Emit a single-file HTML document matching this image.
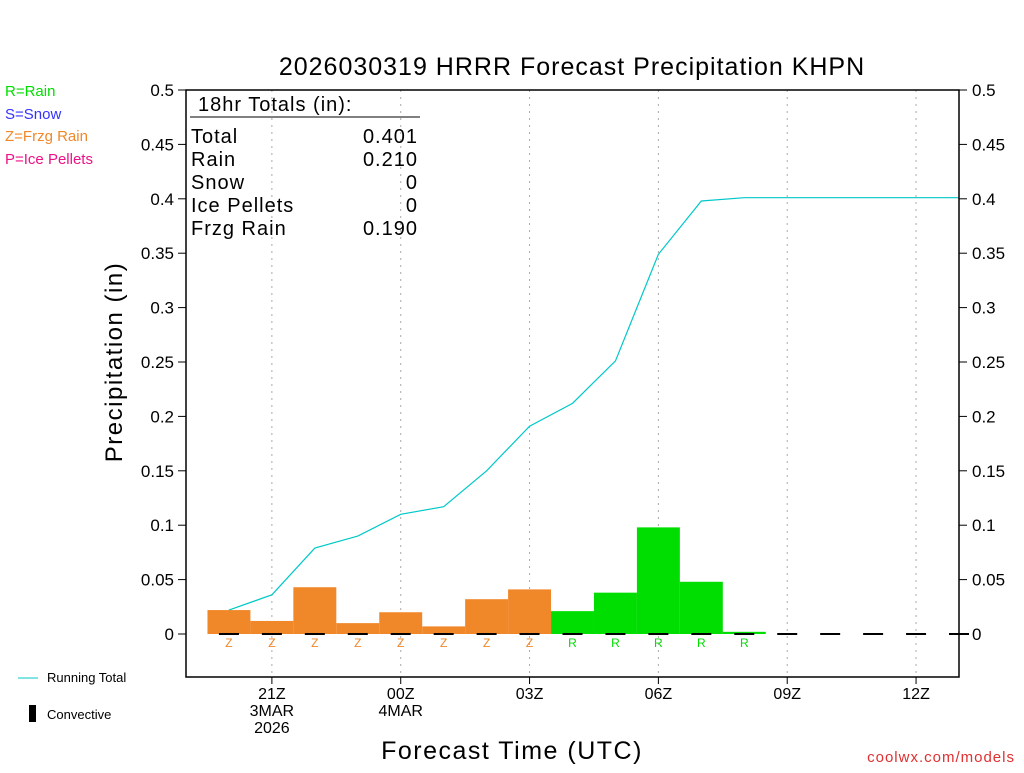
<!DOCTYPE html>
<html><head><meta charset="utf-8"><style>
body{margin:0;background:#fff;width:1024px;height:768px;overflow:hidden;font-family:"Liberation Sans",sans-serif}
</style></head><body>
<svg id="chart" width="1024" height="768" xmlns="http://www.w3.org/2000/svg" font-family="Liberation Sans, sans-serif">
<text x="572" y="75" font-size="25" text-anchor="middle" letter-spacing="1">2026030319 HRRR Forecast Precipitation KHPN</text>
<g font-size="15">
<text x="5" y="96" fill="#00dd00">R=Rain</text>
<text x="5" y="119" fill="#3333ff">S=Snow</text>
<text x="5" y="141" fill="#f0882a">Z=Frzg Rain</text>
<text x="5" y="164" fill="#ee1188">P=Ice Pellets</text>
</g>
<g id="grid"></g><g id="bars"></g><g id="marks"></g>
<polyline id="total-line" fill="none" stroke="#00c8c8" stroke-width="1.2"/>
<rect x="186" y="90" width="773" height="587" fill="none" stroke="#000" stroke-width="1.5"/>
<g id="yaxes" font-size="17"></g><g id="xaxis" font-size="16"></g>
<text transform="translate(122,362) rotate(-90)" font-size="24" text-anchor="middle" letter-spacing="1.5">Precipitation (in)</text>
<text x="512" y="759" font-size="25" text-anchor="middle" letter-spacing="1.5">Forecast Time (UTC)</text>
<g font-size="20" letter-spacing="1">
<text x="198" y="111">18hr Totals (in):</text>
<line x1="190" y1="117" x2="420" y2="117" stroke="#000"/>
<text x="191" y="143">Total</text><text x="418" y="143" text-anchor="end">0.401</text>
<text x="191" y="166">Rain</text><text x="418" y="166" text-anchor="end">0.210</text>
<text x="191" y="189">Snow</text><text x="418" y="189" text-anchor="end">0</text>
<text x="191" y="212">Ice Pellets</text><text x="418" y="212" text-anchor="end">0</text>
<text x="191" y="235">Frzg Rain</text><text x="418" y="235" text-anchor="end">0.190</text>
</g>
<g font-size="13">
<line x1="18" y1="678" x2="38" y2="678" stroke="#00c8c8"/>
<text x="47" y="682">Running Total</text>
<rect x="29" y="705" width="7" height="17" fill="#000"/>
<text x="47" y="719">Convective</text>
</g>
<text x="1015" y="762" font-size="15" fill="#e03030" text-anchor="end" letter-spacing="1">coolwx.com/models</text>
</svg>
<script>
const hours=[20,21,22,23,24,25,26,27,28,29,30,31,32,33,34,35,36,37];
const precip=[0.022,0.012,0.043,0.010,0.020,0.007,0.032,0.041,0.021,0.038,0.098,0.048,0.002,0,0,0,0,0];
const ptype=["Z","Z","Z","Z","Z","Z","Z","Z","R","R","R","R","R","","","","",""];
const runningTotal=[0.022,0.036,0.079,0.090,0.110,0.117,0.150,0.191,0.212,0.251,0.349,0.398,0.401,0.401,0.401,0.401,0.401,0.401];
const yTicks=[0,0.05,0.1,0.15,0.2,0.25,0.3,0.35,0.4,0.45,0.5];
const xTickHours=[21,24,27,30,33,36];
const xTickLabels=[["21Z","3MAR","2026"],["00Z","4MAR"],["03Z"],["06Z"],["09Z"],["12Z"]];
const NS="http://www.w3.org/2000/svg";
const X=h=>186+(h-19)*(773/18);
const Y=v=>634-v*1088;
const colors={Z:"#f0882a",R:"#00dd00",S:"#3333ff",P:"#ee1188"};
function mk(t,a,p){const e=document.createElementNS(NS,t);for(const k in a)e.setAttribute(k,a[k]);p.appendChild(e);return e;}
const grid=document.getElementById('grid'),bars=document.getElementById('bars'),marks=document.getElementById('marks'),ya=document.getElementById('yaxes'),xa=document.getElementById('xaxis');
xTickHours.forEach((h,i)=>{
 const l=mk('line',{x1:X(h),x2:X(h),y1:90,y2:677,stroke:'#aaa','stroke-dasharray':'2,5'},grid);
 
 
 mk('line',{x1:X(h),x2:X(h),y1:677,y2:684,stroke:'#000'},xa);
 xTickLabels[i].forEach((s,j)=>{const t=mk('text',{x:X(h),y:699+j*17,'text-anchor':'middle'},xa);t.textContent=s;
 
 });
});
yTicks.forEach(v=>{
 mk('line',{x1:178,x2:186,y1:Y(v),y2:Y(v),stroke:'#000'},ya);
 mk('line',{x1:959,x2:967,y1:Y(v),y2:Y(v),stroke:'#000'},ya);
 const a=mk('text',{x:174,y:Y(v)+6,'text-anchor':'end'},ya);a.textContent=String(v);
 
 
 const b=mk('text',{x:972,y:Y(v)+6},ya);b.textContent=String(v);
 
 
});
const w=773/18;
hours.forEach((h,i)=>{
 if(precip[i]>0){const r=mk('rect',{x:X(h)-w/2,y:Y(precip[i]),width:w,height:Y(0)-Y(precip[i]),fill:colors[ptype[i]]||'#888'},bars);
 
 }
 const c=mk('line',{x1:X(h)-10,x2:X(h)+10,y1:Y(0),y2:Y(0),stroke:'#000','stroke-width':2},marks);
 
 
 if(ptype[i]){const t=mk('text',{x:X(h),y:647,'text-anchor':'middle','font-size':12,fill:colors[ptype[i]]},marks);t.textContent=ptype[i];
 
 }
});
const pts=hours.map((h,i)=>X(h)+','+Y(runningTotal[i]));
pts.push('959,'+Y(runningTotal[runningTotal.length-1]));
document.getElementById('total-line').setAttribute('points',pts.join(' '));
</script>
</body></html>
